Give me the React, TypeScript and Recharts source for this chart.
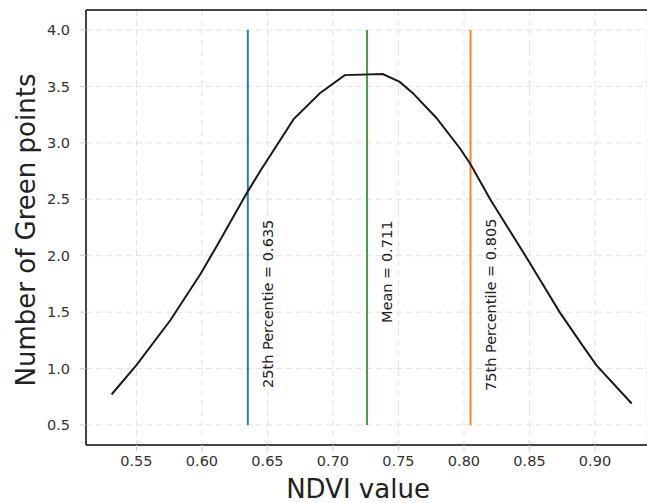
import React from 'react';
import { LineChart, Line, XAxis, YAxis, CartesianGrid, ReferenceLine } from 'recharts';

// curve
const ndvi = [0.531, 0.55, 0.576, 0.599, 0.612, 0.634, 0.645, 0.67, 0.69, 0.709, 0.738, 0.751, 0.761, 0.779, 0.797, 0.805, 0.82, 0.849, 0.873, 0.889, 0.901, 0.928];
const greenPoints = [0.77, 1.03, 1.43, 1.84, 2.1, 2.55, 2.76, 3.21, 3.44, 3.6, 3.61, 3.54, 3.44, 3.22, 2.95, 2.81, 2.5, 1.96, 1.5, 1.23, 1.03, 0.69];

const xTicks = [0.55, 0.6, 0.65, 0.7, 0.75, 0.8, 0.85, 0.9];
const yTicks = [0.5, 1.0, 1.5, 2.0, 2.5, 3.0, 3.5, 4.0];

// marker lines
const markerX = [0.635, 0.726, 0.805];
const markerLabels = ['25th Percentie = 0.635', 'Mean = 0.711', '75th Percentile = 0.805'];
const markerColors = ['#2b7bba', '#3aa83a', '#ff8418'];
const markerLift = [37, 102, 34];

const data = ndvi.map((x, i) => ({ x, y: greenPoints[i] }));

const FONT = '"DejaVu Sans", sans-serif';
const X_DOMAIN: [number, number] = [0.5115, 0.9397];
const Y_DOMAIN: [number, number] = [0.3227, 4.177];

const markerLabel = (text: string, lift: number) => (props: any) => {
  const vb = props.viewBox || {};
  const tx = vb.x + 25;
  const ty = vb.y + vb.height - lift;
  return (
    <text
      x={tx}
      y={ty}
      transform={`rotate(-90, ${tx}, ${ty})`}
      textAnchor="start"
      fontSize={14.5}
      fontFamily={FONT}
      fill="#222"
    >
      {text}
    </text>
  );
};

export default function App() {
  return (
    <div style={{ position: 'absolute', left: 0, top: 0 }}>
      <LineChart width={647} height={503} data={data} margin={{ top: 10, right: 0, left: 0, bottom: 0 }}>
        <CartesianGrid stroke="#e2e2e2" strokeDasharray="6 4" />
        <XAxis
          type="number"
          dataKey="x"
          domain={X_DOMAIN}
          allowDataOverflow
          ticks={xTicks}
          tickFormatter={(v: number) => v.toFixed(2)}
          height={58}
          axisLine={{ stroke: '#444', strokeWidth: 2 }}
          tickLine={{ stroke: '#ccc' }}
          tickSize={6}
          tickMargin={5}
          tick={{ fontSize: 14.5, fontFamily: FONT, fill: '#333' }}
          label={() => (
            <text x={358} y={498} textAnchor="middle" fontSize={26} fontFamily={FONT} fill="#222">
              NDVI value
            </text>
          )}
        />
        <YAxis
          type="number"
          domain={Y_DOMAIN}
          allowDataOverflow
          ticks={yTicks}
          tickFormatter={(v: number) => v.toFixed(1)}
          width={86}
          axisLine={{ stroke: '#444', strokeWidth: 2 }}
          tickLine={{ stroke: '#ccc' }}
          tickSize={6}
          tickMargin={10}
          tick={{ fontSize: 14.5, fontFamily: FONT, fill: '#333' }}
          label={() => (
            <text
              x={35}
              y={230}
              transform="rotate(-90, 35, 230)"
              textAnchor="middle"
              fontSize={26}
              fontFamily={FONT}
              fill="#222"
            >
              Number of Green points
            </text>
          )}
        />
        <ReferenceLine y={Y_DOMAIN[1]} stroke="#444" strokeWidth={2} />
        {markerX.map((mx, i) => (
          <ReferenceLine
            key={markerLabels[i]}
            segment={[{ x: mx, y: 0.5 }, { x: mx, y: 4.0 }]}
            stroke={markerColors[i]}
            strokeWidth={2}
            label={markerLabel(markerLabels[i], markerLift[i])}
          />
        ))}
        <Line
          type="linear"
          dataKey="y"
          stroke="#1a1a1a"
          strokeWidth={2}
          dot={false}
          isAnimationActive={false}
        />
      </LineChart>
    </div>
  );
}
